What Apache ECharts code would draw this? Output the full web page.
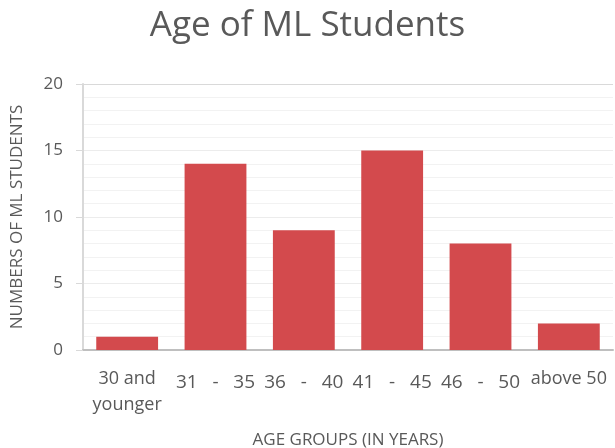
<!DOCTYPE html>
<html>
<head>
<meta charset="utf-8">
<script src="https://cdn.jsdelivr.net/npm/echarts@6/dist/echarts.min.js"></script>
<style>
  html, body { margin: 0; padding: 0; background: #fff; }
  #chart { width: 615px; height: 448px; }
</style>
</head>
<body>
<div id="chart"></div>
<script>
const categories = ['30 and\nyounger', '31   -   35', '36   -   40', '41   -   45', '46   -   50', 'above 50']
const students = [1, 14, 9, 15, 8, 2]
const yTicks = [0, 5, 10, 15, 20]

const font = "'Open Sans', 'Noto Sans', sans-serif"
const textColor = '#595959'

const chart = echarts.init(document.getElementById('chart'))

chart.setOption({
  animation: false,
  textStyle: { fontFamily: font },
  title: {
    text: 'Age of ML Students',
    left: 'center',
    top: 4,
    textStyle: { fontSize: 35, fontWeight: 'normal', color: textColor, fontFamily: font }
  },
  grid: { left: 83, right: 2, top: 84, bottom: 98, outerBoundsMode: 'none', containLabel: false },
  xAxis: {
    type: 'category',
    data: categories,
    name: 'AGE GROUPS (IN YEARS)',
    nameLocation: 'middle',
    nameGap: 82,
    nameTextStyle: { fontSize: 17, color: textColor },
    axisLine: { lineStyle: { color: '#bfbfbf', width: 2 } },
    axisTick: { show: false },
    axisLabel: {
      interval: 0,
      margin: 16,
      color: textColor,
      formatter: v => v.indexOf('-') > -1 ? '{big|' + v + '}' : '{small|' + v.replace('\n', '}\n{small|') + '}',
      rich: {
        big: { fontSize: 19, color: textColor, fontFamily: font, lineHeight: 34 },
        small: { fontSize: 18, color: textColor, fontFamily: font, lineHeight: 26 }
      }
    }
  },
  yAxis: {
    type: 'value',
    min: yTicks[0],
    max: yTicks[yTicks.length - 1],
    interval: 5,
    name: 'NUMBERS OF ML STUDENTS',
    nameLocation: 'middle',
    nameGap: 57,
    nameRotate: 90,
    nameTextStyle: { fontSize: 17, color: textColor },
    axisLine: { show: true, lineStyle: { color: '#d9d9d9', width: 2 } },
    axisTick: { show: true, length: 7, lineStyle: { color: '#d9d9d9' } },
    axisLabel: { fontSize: 17, color: textColor, margin: 20 },
    splitLine: { lineStyle: { color: ['#d9d9d9', '#ececec', '#ececec', '#ececec', '#d9d9d9'] } },
    minorTick: { show: false, splitNumber: 5 },
    minorSplitLine: { show: true, lineStyle: { color: '#f2f2f2' } }
  },
  series: [{
    type: 'bar',
    data: students,
    barCategoryGap: '30%',
    itemStyle: { color: '#d34a4d' }
  }]
})
</script>
</body>
</html>
